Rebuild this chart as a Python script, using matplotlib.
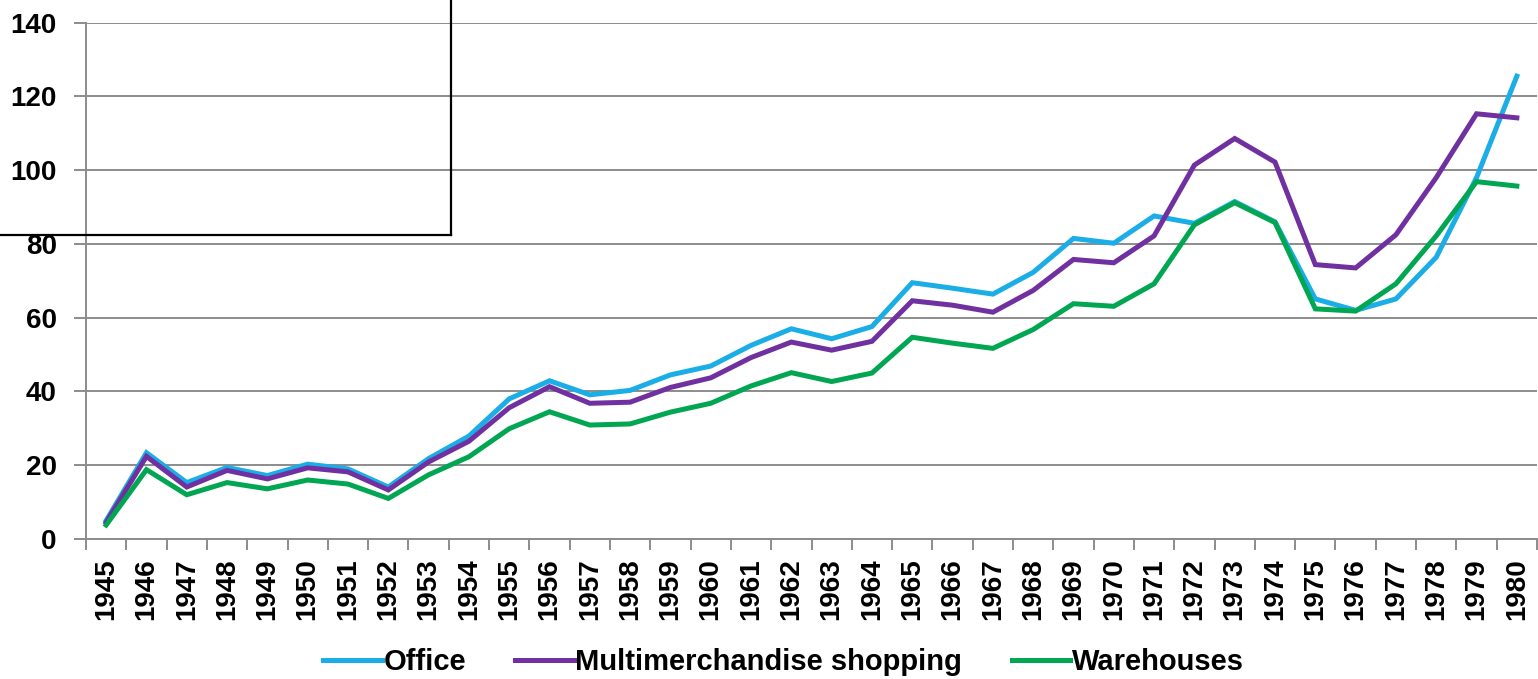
import matplotlib
matplotlib.use("Agg")
import matplotlib.pyplot as plt
from matplotlib.lines import Line2D
import numpy as np

# --- data -----------------------------------------------------------------
years = list(range(1945, 1981))
office = [5.0, 23.4, 15.3, 19.4, 17.2, 20.3, 19.0, 14.1, 21.8, 27.9, 38.0, 42.9,
          39.1, 40.3, 44.5, 46.9, 52.5, 57.0, 54.3, 57.6, 69.5, 68.0, 66.4, 72.3,
          81.5, 80.2, 87.6, 85.6, 91.5, 86.0, 65.1, 62.0, 65.1, 76.4, 98.0, 125.5]
shopping = [4.5, 22.4, 14.1, 18.6, 16.3, 19.3, 18.2, 13.3, 20.9, 26.5, 35.6, 41.3,
            36.8, 37.1, 41.1, 43.7, 49.2, 53.4, 51.2, 53.6, 64.6, 63.4, 61.5, 67.4,
            75.8, 74.9, 82.2, 101.4, 108.6, 102.2, 74.4, 73.5, 82.5, 98.0, 115.3, 114.2]
warehouses = [3.8, 18.8, 12.0, 15.3, 13.6, 16.0, 14.9, 11.0, 17.4, 22.3, 29.9, 34.5,
              30.9, 31.2, 34.4, 36.8, 41.5, 45.1, 42.7, 45.0, 54.7, 53.1, 51.7, 56.8,
              63.8, 63.1, 69.2, 85.2, 91.2, 85.8, 62.4, 61.8, 69.2, 82.2, 96.9, 95.7]
series_names = ["Office", "Multimerchandise shopping", "Warehouses"]
colors = ["#1AADE6", "#7030A0", "#00A651"]
y_ticks = [0, 20, 40, 60, 80, 100, 120, 140]

plt.rcParams["font.family"] = ["Liberation Sans", "DejaVu Sans"]
plt.rcParams["font.weight"] = "bold"
GRID = "#8C8C8C"

fig = plt.figure(figsize=(15.38, 6.79), dpi=100)
ax = fig.add_axes([86 / 1538, 140 / 679, 1451 / 1538, (539 - 22.7) / 679])

x = np.arange(len(years))
for vals, name, col in zip([office, shopping, warehouses], series_names, colors):
    ax.plot(x, vals, color=col, lw=3.6, label=name, solid_joinstyle="miter", zorder=3)

ax.set_xlim(-0.5, len(years) - 0.5)
ax.set_ylim(0, 140)
ax.set_yticks(y_ticks)
ax.set_yticklabels([str(v) for v in y_ticks], fontsize=20, fontweight="bold")
ax.grid(axis="y", color=GRID, lw=1.4, zorder=0)

# ticks between categories, labels at the centres
ax.set_xticks(np.arange(len(years) + 1) - 0.5)
ax.set_xticklabels([])
ax.set_xticks(x, minor=True)
ax.set_xticklabels([str(y) for y in years], minor=True, rotation=90,
                   fontsize=20, fontweight="bold")
ax.tick_params(axis="x", which="major", length=8, width=1.4, color=GRID)
ax.tick_params(axis="x", which="minor", length=0, pad=14)
ax.tick_params(axis="y", length=9, width=1.4, color=GRID, pad=12)

for side in ["top", "right"]:
    ax.spines[side].set_visible(False)
for side in ["left", "bottom"]:
    ax.spines[side].set_color(GRID)
    ax.spines[side].set_linewidth(1.4)

fig.legend(loc="center", bbox_to_anchor=(783.5 / 1538, 17 / 679), ncol=3,
           frameon=False, prop={"size": 21, "weight": "bold"},
           handlelength=2.0, handletextpad=0.05, columnspacing=1.7)

# stray box outline at the top-left of the original picture
fig.add_artist(Line2D([0, 451 / 1538], [(679 - 234.5) / 679] * 2,
                      transform=fig.transFigure, color="black", lw=1.6))
fig.add_artist(Line2D([451 / 1538] * 2, [1, (679 - 234.5) / 679],
                      transform=fig.transFigure, color="black", lw=1.6))

fig.savefig("out.png", dpi=100)
